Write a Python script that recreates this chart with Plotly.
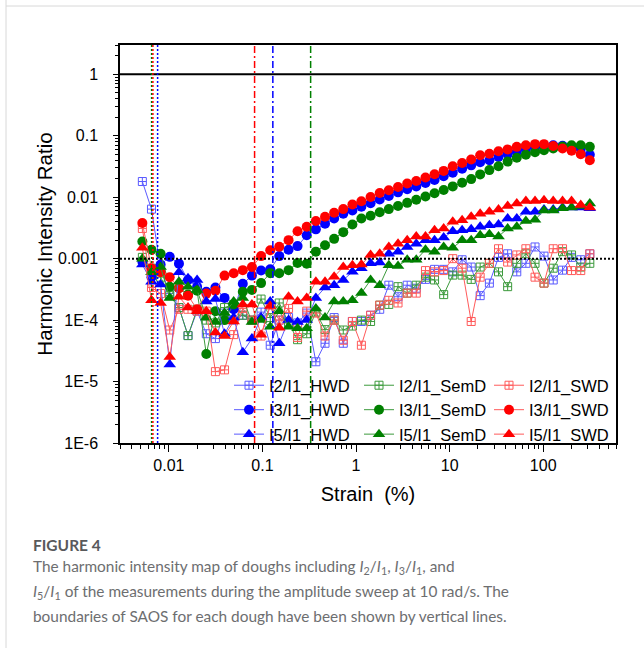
import math
import plotly.graph_objects as go

# ---------------- data ----------------
strain = [0.0052, 0.00651, 0.00815, 0.0102, 0.0128, 0.016, 0.02, 0.0251, 0.0314, 0.0393,
          0.0492, 0.0616, 0.0771, 0.0966, 0.121, 0.151, 0.19, 0.237, 0.297, 0.372,
          0.466, 0.583, 0.73, 0.914, 1.14, 1.43, 1.79, 2.24, 2.81, 3.52,
          4.4, 5.52, 6.9, 8.64, 10.8, 13.6, 17.0, 21.2, 26.6, 33.3,
          41.7, 52.2, 65.3, 81.8, 102, 128, 161, 201, 252, 315]

i2_hwd = [0.018, 6.4e-3, 7e-4, 2.7e-4, 1.6e-4, 5.6e-5, 1.4e-4, 6e-5, 5e-5, 1.3e-4,
          1.0e-4, 1.2e-4, 1.0e-4, 1.35e-4, 3.9e-5, 1.0e-4, 1.1e-4, 9e-5, 1.3e-4, 2.1e-5,
          4.2e-5, 1.1e-4, 4.2e-5, 9.5e-5, 9.5e-5, 1.2e-4, 1.5e-4, 3.7e-4, 2.4e-4, 3.7e-4,
          3.3e-4, 4.6e-4, 6.7e-4, 6.7e-4, 6.1e-4, 9.6e-4, 7.3e-4, 2.5e-4, 4.0e-4, 1.05e-3,
          1.2e-3, 6.1e-4, 8.4e-4, 1.55e-3, 1.1e-3, 4.5e-4, 6.5e-4, 1.05e-3, 9.6e-4, 1.2e-3]
i2_semd = [1.05e-3, 7e-4, 5e-4, 2.5e-4, 1.6e-4, 5.6e-5, 1.5e-4, 1.0e-4, 9e-5, 1.6e-4,
           1.8e-4, 1.2e-4, 1.0e-4, 2.2e-4, 1.1e-4, 1.9e-4, 9e-5, 4.8e-5, 6e-5, 1.35e-4,
           7e-5, 1.0e-4, 6.9e-5, 8e-5, 1.0e-4, 9.5e-5, 1.75e-4, 1.8e-4, 3.5e-4, 2.75e-4,
           3.7e-4, 5.0e-4, 4.5e-4, 2.6e-4, 5.4e-4, 5.4e-4, 4.6e-4, 7.3e-4, 8.4e-4, 6.1e-4,
           3.5e-4, 8.4e-4, 1.2e-3, 8.4e-4, 4.0e-4, 7.0e-4, 1.3e-3, 1.15e-3, 7.3e-4, 8.4e-4]
i2_swd = [3.1e-3, 3.4e-4, 2.7e-4, 6.9e-5, 1.5e-4, 1.5e-4, 1.4e-4, 1.4e-4, 1.45e-5, 1.55e-5,
          5.8e-5, 1.55e-4, 1.0e-4, 5.5e-5, 1.75e-4, 1.0e-4, 1.55e-4, 5.2e-5, 1.4e-4, 1.3e-4,
          5.5e-5, 1.0e-4, 4.7e-5, 9.5e-5, 3.9e-5, 1.2e-4, 1.75e-4, 2.1e-4, 1.9e-4, 2.75e-4,
          2.75e-4, 6.4e-4, 6.1e-4, 6.4e-4, 1.0e-3, 7e-4, 9.5e-5, 5.0e-4, 8.4e-4, 1.45e-3,
          8.8e-4, 1.15e-3, 1.45e-3, 5.0e-4, 4.0e-4, 1.45e-3, 1.45e-3, 6.4e-4, 6.4e-4, 1.2e-3]

i3_hwd = [9e-4, 5e-4, 8e-4, 1.07e-3, 8.3e-4, 4.5e-4, 3.5e-4, 2.9e-4, 3.4e-4, 2.3e-4,
          1.5e-4, 3.9e-4, 5.3e-4, 6.4e-4, 6.7e-4, 1.1e-3, 1.4e-3, 1.6e-3, 2.4e-3, 3.0e-3,
          3.7e-3, 4.5e-3, 5.4e-3, 6.1e-3, 7.0e-3, 8.0e-3, 9.2e-3, 0.0105, 0.012, 0.0135,
          0.015, 0.017, 0.019, 0.022, 0.025, 0.029, 0.033, 0.037, 0.040, 0.045,
          0.050, 0.055, 0.060, 0.065, 0.068, 0.070, 0.069, 0.066, 0.061, 0.049]
i3_semd = [1.9e-3, 1.4e-3, 1.2e-3, 3.5e-4, 3.3e-4, 2.6e-4, 3.0e-4, 2.8e-5, 1.4e-4, 1.0e-4,
           1.8e-4, 2.9e-4, 3.1e-4, 4.0e-4, 5.8e-4, 5.8e-4, 6.5e-4, 8.5e-4, 8.3e-4, 1.3e-3,
           1.65e-3, 2.1e-3, 2.7e-3, 3.6e-3, 4.5e-3, 5.0e-3, 5.7e-3, 6.4e-3, 7.2e-3, 8.1e-3,
           9.1e-3, 0.0103, 0.0116, 0.0131, 0.015, 0.0172, 0.0197, 0.0235, 0.0276, 0.032,
           0.038, 0.044, 0.049, 0.054, 0.058, 0.062, 0.067, 0.070, 0.070, 0.066]
i3_swd = [0.0038, 7.0e-4, 6.0e-4, 5.0e-4, 3.3e-4, 2.5e-4, 1.5e-4, 2.7e-4, 3.0e-4, 5.3e-4,
          5.8e-4, 6.5e-4, 7.3e-4, 1.1e-3, 1.37e-3, 1.56e-3, 2.0e-3, 2.8e-3, 3.3e-3, 4.1e-3,
          4.8e-3, 5.6e-3, 6.4e-3, 7.6e-3, 8.6e-3, 0.0101, 0.0117, 0.013, 0.0147, 0.0167,
          0.0184, 0.0209, 0.0237, 0.0268, 0.0319, 0.0361, 0.041, 0.0482, 0.051, 0.056,
          0.060, 0.066, 0.070, 0.073, 0.073, 0.068, 0.062, 0.057, 0.050, 0.040]

i5_hwd = [8e-4, 4.2e-4, 3.8e-4, 1.9e-5, 6e-4, 4.8e-4, 4.5e-4, 2.0e-4, 2.2e-4, 6e-5,
          1.1e-4, 3.0e-5, 5.0e-5, 1.1e-4, 2.0e-4, 4.2e-5, 1.0e-4, 9.3e-5, 1.0e-4, 2.3e-4,
          3.4e-4, 3.7e-4, 4.5e-4, 6.1e-4, 7.0e-4, 8.4e-4, 8.7e-4, 1.2e-3, 1.3e-3, 1.55e-3,
          1.75e-3, 2.0e-3, 2.0e-3, 2.2e-3, 2.8e-3, 2.9e-3, 3.0e-3, 3.3e-3, 3.5e-3, 3.6e-3,
          4.5e-3, 4.5e-3, 5.8e-3, 5.8e-3, 6.3e-3, 6.3e-3, 6.8e-3, 6.8e-3, 6.8e-3, 6.6e-3]
i5_semd = [1.0e-3, 6.0e-4, 7.3e-4, 2.3e-4, 4.2e-4, 3.5e-4, 3.1e-4, 1.1e-4, 9.3e-5, 1.3e-4,
           2.0e-4, 2.3e-4, 9.3e-5, 1.0e-4, 7.8e-5, 1.4e-4, 7.8e-5, 7.4e-5, 7.4e-5, 1.55e-4,
           1.1e-4, 2.0e-4, 2.0e-4, 2.1e-4, 2.75e-4, 4.5e-4, 3.7e-4, 7.8e-4, 7.6e-4, 9.6e-4,
           9.6e-4, 1.4e-3, 1.3e-3, 1.55e-3, 1.5e-3, 2.0e-3, 2.0e-3, 2.4e-3, 2.5e-3, 2.3e-3,
           3.1e-3, 3.3e-3, 4.1e-3, 4.3e-3, 6.1e-3, 6.1e-3, 6.6e-3, 6.8e-3, 7.2e-3, 7.9e-3]
i5_swd = [1.5e-3, 2.1e-4, 1.9e-4, 2.5e-5, 2.4e-4, 1.6e-4, 1.4e-4, 1.4e-4, 6.3e-5, 5.5e-5,
          9.5e-5, 1.8e-4, 1.8e-4, 5.8e-5, 1.7e-4, 7.5e-5, 2.4e-4, 2.0e-4, 2.3e-4, 4.2e-4,
          4.2e-4, 5.1e-4, 7.3e-4, 7.8e-4, 8.0e-4, 1.15e-3, 1.2e-3, 1.55e-3, 1.75e-3, 2.0e-3,
          2.3e-3, 2.3e-3, 2.9e-3, 3.1e-3, 4.0e-3, 4.2e-3, 4.8e-3, 5.4e-3, 5.8e-3, 6.3e-3,
          7.2e-3, 7.9e-3, 8.7e-3, 8.7e-3, 8.9e-3, 8.7e-3, 8.7e-3, 8.7e-3, 7.5e-3, 6.8e-3]

# SAOS boundaries (strain %)
saos_small = {"SemD": 0.00653, "SWD": 0.00674, "HWD": 0.00757}
saos_large = {"SWD": 0.0823, "HWD": 0.129, "SemD": 0.327}

x_ticks = [0.01, 0.1, 1, 10, 100]
x_ticktext = ["0.01", "0.1", "1", "10", "100"]
y_ticks = [1, 0.1, 0.01, 0.001, 1e-4, 1e-5, 1e-6]
y_ticktext = ["1", "0.1", "0.01", "0.001", "1E-4", "1E-5", "1E-6"]

# ---------------- styling ----------------
FONT = "Liberation Sans, Arial, sans-serif"
main_col = {"HWD": "#0000FF", "SemD": "#008000", "SWD": "#FF0000"}
light_col = {"HWD": "#5a5aff", "SemD": "#3c9a3c", "SWD": "#ff5a5a"}

series = [
    ("I2/I1_HWD", i2_hwd, "HWD", "square-cross-open"),
    ("I2/I1_SemD", i2_semd, "SemD", "square-cross-open"),
    ("I2/I1_SWD", i2_swd, "SWD", "square-cross-open"),
    ("I3/I1_HWD", i3_hwd, "HWD", "circle"),
    ("I3/I1_SemD", i3_semd, "SemD", "circle"),
    ("I3/I1_SWD", i3_swd, "SWD", "circle"),
    ("I5/I1_HWD", i5_hwd, "HWD", "triangle-up"),
    ("I5/I1_SemD", i5_semd, "SemD", "triangle-up"),
    ("I5/I1_SWD", i5_swd, "SWD", "triangle-up"),
]

fig = go.Figure()
for name, vals, dough, sym in series:
    if sym == "square-cross-open":
        marker = dict(symbol=sym, size=8, color=light_col[dough], line=dict(width=1, color=light_col[dough]))
    else:
        marker = dict(symbol=sym, size=11 if sym == "triangle-up" else 10, color=main_col[dough],
                      line=dict(width=0))
    fig.add_trace(go.Scatter(x=strain, y=vals, name=name, mode="lines+markers",
                             line=dict(color=light_col[dough], width=1), marker=marker))

xmin, xmax = 0.003, 600
ymin, ymax = 1e-6, 3

# reference horizontal lines
fig.add_trace(go.Scatter(x=[xmin, xmax], y=[1, 1], mode="lines", showlegend=False,
                         line=dict(color="black", width=2), hoverinfo="skip"))
fig.add_trace(go.Scatter(x=[xmin, xmax], y=[0.001, 0.001], mode="lines", showlegend=False,
                         line=dict(color="black", width=2, dash="2px,2px"), hoverinfo="skip"))
# SAOS boundaries
for dough in ["SemD", "SWD", "HWD"]:
    v = saos_small[dough]
    fig.add_trace(go.Scatter(x=[v, v], y=[ymin, ymax], mode="lines", showlegend=False,
                             line=dict(color=main_col[dough], width=1.5, dash="2px,2px"), hoverinfo="skip"))
for dough in ["SWD", "HWD", "SemD"]:
    v = saos_large[dough]
    fig.add_trace(go.Scatter(x=[v, v], y=[ymin, ymax], mode="lines", showlegend=False,
                             line=dict(color=main_col[dough], width=1.5, dash="7px,3px,2px,3px"), hoverinfo="skip"))

def minor_vals(lo_exp, hi_exp, lo, hi):
    out = []
    for e in range(lo_exp, hi_exp + 1):
        for k in range(2, 10):
            v = k * 10 ** e
            if lo <= v <= hi:
                out.append(v)
    return out

L, R, T, B = 120, 28, 45, 205
W, H = 644, 648
pw, ph = W - L - R, H - T - B

def px(xp):
    return (xp - L) / pw

def py(yp):
    return (H - B - yp) / ph

fig.update_layout(
    width=W, height=H,
    margin=dict(l=L, r=R, t=T, b=B),
    paper_bgcolor="white", plot_bgcolor="white",
    font=dict(family=FONT, color="black", size=16),
    xaxis=dict(
        type="log", range=[math.log10(xmin), math.log10(xmax)],
        tickvals=x_ticks, ticktext=x_ticktext,
        ticks="outside", ticklen=7, tickwidth=1, tickcolor="black",
        showline=True, linecolor="black", linewidth=1.5, mirror=True,
        showgrid=False, zeroline=False,
        tickfont=dict(size=16, family=FONT),
        minor=dict(ticks="outside", ticklen=4, tickwidth=1, tickcolor="black",
                   tickvals=minor_vals(-3, 2, xmin, xmax), showgrid=False),
        title=dict(text="Strain\u00a0 (%)", font=dict(size=20, family=FONT), standoff=14),
    ),
    yaxis=dict(
        type="log", range=[math.log10(ymin), math.log10(ymax)],
        tickvals=y_ticks, ticktext=y_ticktext,
        ticks="outside", ticklen=5, tickwidth=1, tickcolor="black",
        showline=True, linecolor="black", linewidth=1.5, mirror=True,
        showgrid=False, zeroline=False, ticklabelstandoff=12,
        tickfont=dict(size=16, family=FONT),
        minor=dict(ticks="outside", ticklen=3, tickwidth=1, tickcolor="black",
                   tickvals=minor_vals(-6, 0, ymin, ymax), showgrid=False),
        title=dict(text="Harmonic Intensity Ratio", font=dict(size=20.5, family=FONT), standoff=0),
    ),
    legend=dict(
        orientation="h", x=px(229), xanchor="left", y=py(410), yanchor="middle",
        entrywidth=85, bgcolor="rgba(0,0,0,0)", borderwidth=0,
        font=dict(size=16.5, family=FONT, color="black"), traceorder="normal",
    ),
)

# caption
CAP_FONT = "Lato, Noto Sans, sans-serif"
fig.add_annotation(xref="paper", yref="paper", x=px(31), y=py(545), xanchor="left", yanchor="middle",
                   text="<b>FIGURE 4</b>", showarrow=False,
                   font=dict(family=CAP_FONT, size=15.5, color="#58595b"))
cap_lines = [
    "The harmonic intensity map of doughs including <i>I</i><sub>2</sub>/<i>I</i><sub>1</sub>, "
    "<i>I</i><sub>3</sub>/<i>I</i><sub>1</sub>, and",
    "<i>I</i><sub>5</sub>/<i>I</i><sub>1</sub> of the measurements during the amplitude sweep at 10 rad/s. The",
    "boundaries of SAOS for each dough have been shown by vertical lines.",
]
for yy, t in zip([567, 592, 616], cap_lines):
    fig.add_annotation(xref="paper", yref="paper", x=px(31), y=py(yy), xanchor="left", yanchor="middle",
                       text=t, showarrow=False, font=dict(family=CAP_FONT, size=15.4, color="#6d6e70"))

# page frame lines
fig.add_shape(type="line", xref="paper", yref="paper", x0=px(6), x1=px(6), y0=py(0), y1=py(H),
              line=dict(color="#d8d8d8", width=1))
fig.add_shape(type="line", xref="paper", yref="paper", x0=px(6), x1=px(W), y0=py(6), y1=py(6),
              line=dict(color="#d8d8d8", width=1))

fig.write_html("out.html", config={"displayModeBar": False},
               post_script="document.body.style.margin='0px';")
